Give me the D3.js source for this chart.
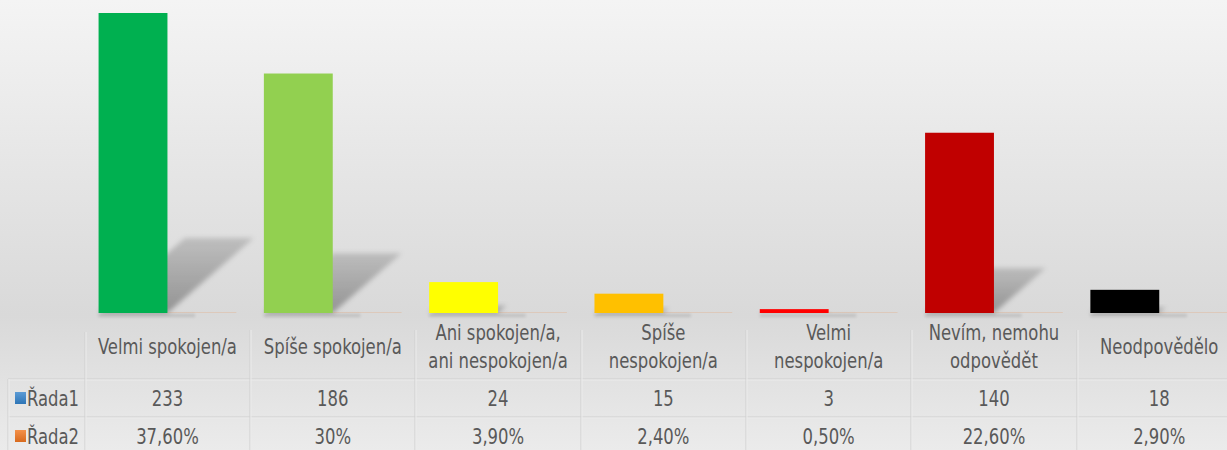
<!DOCTYPE html>
<html>
<head>
<meta charset="utf-8">
<script src="https://cdn.jsdelivr.net/npm/d3@7"></script>
<style>
  html, body { margin: 0; padding: 0; background: #fff; }
  svg text { font-family: 'DejaVu Sans Condensed', 'DejaVu Sans', sans-serif; font-stretch: condensed; fill: #595959; }
</style>
</head>
<body>
<svg id="chart"></svg>
<script>
var W = 1227; // canvas size
var H = 450;

// data
var categories = ["Velmi spokojen/a", "Spíše spokojen/a", "Ani spokojen/a,\nani nespokojen/a", "Spíše\nnespokojen/a",
                  "Velmi\nnespokojen/a", "Nevím, nemohu\nodpovědět", "Neodpovědělo"];
var series = ["Řada1", "Řada2"];
var rada1 = [233, 186, 24, 15, 3, 140, 18];
var rada2 = [0.376, 0.30, 0.039, 0.024, 0.005, 0.226, 0.029];
var rada2Labels = ["37,60%", "30%", "3,90%", "2,40%", "0,50%", "22,60%", "2,90%"];
var barColors = ["#00b050", "#92d050", "#ffff00", "#ffc000", "#ff0000", "#c00000", "#000000"];

var base_y = 313;   // baseline of bars
var col_x = 84.8;   // left edge of first category column
var col_w = 165.3;  // category width
var row1_y = 379, row2_y = 417, row_h = 38;
var fs = 21, squeeze = 0.87; // text size and horizontal squeeze (narrow look)

function gpos(x, y) { return "translate(" + x + "," + y + ")"; }
function tpos(x, y) { return gpos(x, y) + " scale(" + squeeze + ",1)"; }

var svg = d3.select("#chart").attr("width", W).attr("height", H);
var defs = svg.append("defs");

// background gradient
var bg = defs.append("linearGradient").attr("id", "bg").attr("x1", 0).attr("y1", 0).attr("x2", 0).attr("y2", 1);
bg.append("stop").attr("offset", 0).attr("stop-color", "#f4f4f4");
bg.append("stop").attr("offset", 0.7).attr("stop-color", "#d9d9d9");
bg.append("stop").attr("offset", 1).attr("stop-color", "#ebebeb");
svg.append("rect").attr("width", W).attr("height", H).attr("fill", "url(#bg)");

// shadow gradient + blur
var sg = defs.append("linearGradient").attr("id", "shadowGrad").attr("x1", 0).attr("y1", 1).attr("x2", 0).attr("y2", 0);
sg.append("stop").attr("offset", 0).attr("stop-color", "#000").attr("stop-opacity", 0.32);
sg.append("stop").attr("offset", 1).attr("stop-color", "#000").attr("stop-opacity", 0.15);
defs.append("filter").attr("id", "blur").attr("x", "-50%").attr("y", "-50%").attr("width", "200%").attr("height", "200%")
  .append("feGaussianBlur").attr("stdDeviation", 2.8);
defs.append("filter").attr("id", "blur2").attr("x", "-50%").attr("y", "-200%").attr("width", "200%").attr("height", "500%")
  .append("feGaussianBlur").attr("stdDeviation", 1.5);

// key gradients
var keyCols = [["#5b9bd5", "#2e75b6"], ["#f4914a", "#d86a1e"]];
keyCols.forEach(function(c, i) {
  var g = defs.append("linearGradient").attr("id", "key" + i).attr("x1", 0).attr("y1", 0).attr("x2", 0).attr("y2", 1);
  g.append("stop").attr("offset", 0).attr("stop-color", c[0]);
  g.append("stop").attr("offset", 1).attr("stop-color", c[1]);
});

// scales
var x0 = d3.scaleBand().domain(d3.range(categories.length)).range([col_x, col_x + col_w * categories.length]);
var x1 = d3.scaleBand().domain(series).range([0, x0.bandwidth()]).paddingInner(0).paddingOuter(0.2);
var y = d3.scaleLinear().domain([0, 250]).range([base_y, base_y - 250 * 300 / 233]);

// perspective shadows
var shadows = svg.append("g").attr("id", "shadows");
rada1.forEach(function(v, i) {
  var xa = x0(i) + x1("Řada1"), xb = xa + x1.bandwidth();
  var h = base_y - y(v);
  var sh = h * 0.25, dx = sh * 1.15;
  shadows.append("polygon")
    .attr("points", [[xa, base_y], [xb, base_y], [xb + dx, base_y - sh], [xa + dx, base_y - sh]].join(" "))
    .attr("fill", "url(#shadowGrad)")
    .attr("filter", "url(#blur)");
  // soft reflection under the bar
  shadows.append("rect")
    .attr("x", xa).attr("y", base_y + 1).attr("width", x1.bandwidth() * 1.4).attr("height", 3)
    .attr("fill", "#000").attr("opacity", 0.12).attr("filter", "url(#blur2)");
});

// bars for series 1
svg.append("g").attr("id", "bars1").selectAll("rect").data(rada1).enter().append("rect")
  .attr("x", function(d, i) { return x0(i) + x1("Řada1"); })
  .attr("y", function(d) { return y(d); })
  .attr("width", x1.bandwidth())
  .attr("height", function(d) { return base_y - y(d); })
  .attr("fill", function(d, i) { return barColors[i]; });

// series 2 (values are fractions, barely visible)
svg.append("g").attr("id", "bars2").selectAll("rect").data(rada2).enter().append("rect")
  .attr("x", function(d, i) { return x0(i) + x1("Řada2"); })
  .attr("y", function(d) { return Math.min(y(d), base_y - 1); })
  .attr("width", x1.bandwidth())
  .attr("height", function(d) { return Math.max(1, base_y - y(d)); })
  .attr("fill", "#ed7d31").attr("opacity", 0.18);

// data table grid
var grid = svg.append("g").attr("id", "grid");
var tableRight = x0.range()[1];
function gline(xa, ya, xb, yb) {
  grid.append("line").attr("x1", xa).attr("y1", ya).attr("x2", xb).attr("y2", yb)
    .attr("stroke", "#cfcfcf").attr("stroke-width", 1);
  grid.append("line").attr("x1", xa + (xa == xb ? 1 : 0)).attr("y1", ya + (ya == yb ? 1 : 0))
    .attr("x2", xb + (xa == xb ? 1 : 0)).attr("y2", yb + (ya == yb ? 1 : 0))
    .attr("stroke", "#ececec").attr("stroke-width", 1);
}
gline(8, row1_y, tableRight, row1_y);
gline(8, row2_y, tableRight, row2_y);
gline(8, row1_y, 8, H);
d3.range(categories.length + 1).forEach(function(i) {
  var xx = Math.round(col_x + col_w * i);
  gline(xx, i == 0 ? 332 : 330, xx, H);
});

// category labels
var catLabels = svg.append("g").attr("id", "cat-labels").selectAll("text").data(categories).enter().append("text")
  .attr("text-anchor", "middle")
  .attr("font-size", fs)
  .attr("transform", function(d, i) { return tpos(x0(i) + x0.bandwidth() / 2, 346.5); });
catLabels.each(function(d) {
  var lines = d.split("\n");
  var t = d3.select(this);
  lines.forEach(function(l, k) {
    t.append("tspan").attr("x", 0)
      .attr("y", (k - (lines.length - 1) / 2) * 28 + 7.5)
      .text(l);
  });
});

// table rows
var rows = [rada1.map(String), rada2Labels];
rows.forEach(function(r, ri) {
  var cy = (ri == 0 ? row1_y : row2_y) + row_h / 2;
  var g = svg.append("g").attr("class", "row");
  g.selectAll("text").data(r).enter().append("text")
    .attr("text-anchor", "middle").attr("font-size", fs)
    .attr("transform", function(d, i) { return tpos(x0(i) + x0.bandwidth() / 2, cy + 7.5); })
    .text(function(d) { return d; });
  g.append("rect").attr("x", 15).attr("y", cy - 6).attr("width", 11).attr("height", 12)
    .attr("fill", "url(#key" + ri + ")");
  g.append("text").attr("transform", tpos(27, cy + 7.5)).attr("font-size", fs).text(series[ri]);
});
</script>
</body>
</html>
